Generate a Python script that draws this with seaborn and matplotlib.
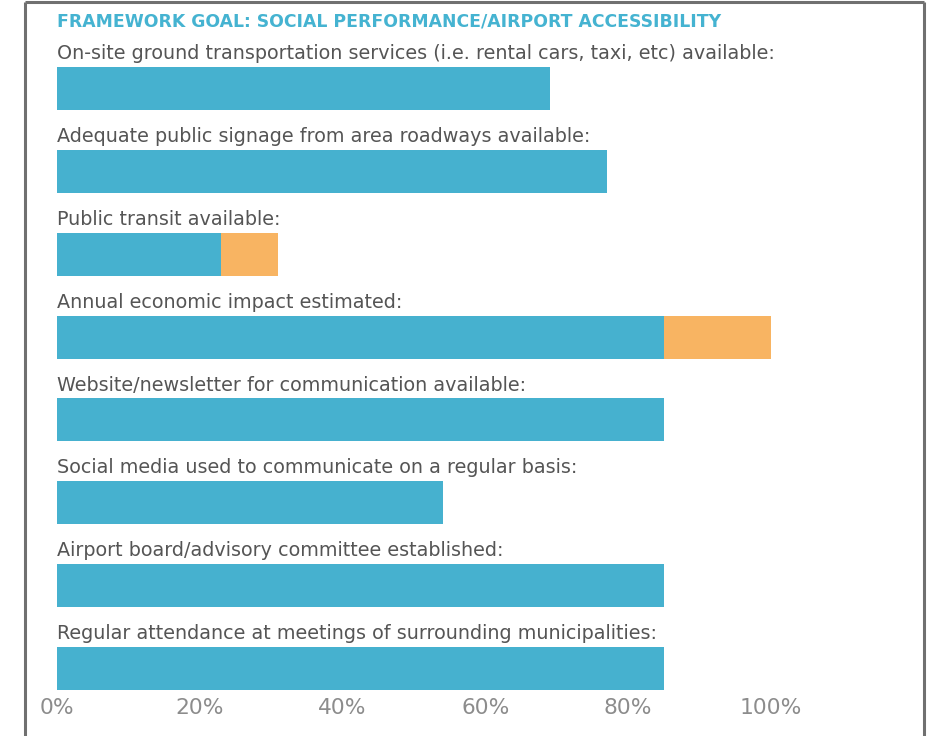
import matplotlib
matplotlib.use("Agg")
import matplotlib.pyplot as plt
from matplotlib.lines import Line2D
import seaborn as sns
import pandas as pd

sns.set_theme(style="white")
plt.rcParams["font.family"] = ["DejaVu Sans"]

title = "FRAMEWORK GOAL: SOCIAL PERFORMANCE/AIRPORT ACCESSIBILITY"
categories = [
    "On-site ground transportation services (i.e. rental cars, taxi, etc) available:",
    "Adequate public signage from area roadways available:",
    "Public transit available:",
    "Annual economic impact estimated:",
    "Website/newsletter for communication available:",
    "Social media used to communicate on a regular basis:",
    "Airport board/advisory committee established:",
    "Regular attendance at meetings of surrounding municipalities:",
]
yes_pct = [69, 77, 23, 85, 85, 54, 85, 85]
partial_pct = [0, 0, 8, 15, 0, 0, 0, 0]
tick_values = [0, 20, 40, 60, 80, 100]
tick_labels = ["0%", "20%", "40%", "60%", "80%", "100%"]

BLUE = "#46b1cf"
ORANGE = "#f8b462"
BAR_W = 0.52

df = pd.DataFrame({
    "item": categories,
    "yes": yes_pct,
    "total": [a + b for a, b in zip(yes_pct, partial_pct)],
})

W, H = 939, 736
fig = plt.figure(figsize=(W / 100, H / 100), dpi=100)

row = 82.86
top_px = 88.5 - row / 2
bottom_px = 668.5 + (BAR_W / 2 + 0.02) * row
ax = fig.add_axes([57 / W, 1 - bottom_px / H, 714 / W, (bottom_px - top_px) / H])

sns.barplot(data=df, y="item", x="total", color=ORANGE, width=BAR_W,
            orient="h", ax=ax, saturation=1, linewidth=0)
sns.barplot(data=df, y="item", x="yes", color=BLUE, width=BAR_W,
            orient="h", ax=ax, saturation=1, linewidth=0)

ax.set_xlim(0, 100)
ax.set_ylim(len(categories) - 1 + BAR_W / 2 + 0.02, -0.5)
ax.set_xticks(tick_values)
ax.set_xticklabels(tick_labels, color="#8c8c8c", fontsize=15.7)
ax.tick_params(axis="x", length=0, pad=4.5)
ax.set_yticks([])
ax.set_xlabel("")
ax.set_ylabel("")
for s in ax.spines.values():
    s.set_visible(False)

for i, label in enumerate(categories):
    ax.text(0, i - BAR_W / 2 - 0.095, label, ha="left", va="baseline",
            fontsize=13.8, color="#555555", clip_on=False)

fig.text(57 / W, 1 - 22 / H, title, ha="left", va="center",
         fontsize=12.45, fontweight="bold", color="#45b3d1")

# panel frame (open at the bottom)
frame = dict(color="#707070", linewidth=2.2, solid_capstyle="butt")
fig.add_artist(Line2D([25 / W, 25 / W], [0, 1 - 1.5 / H], **frame))
fig.add_artist(Line2D([924 / W, 924 / W], [0, 1 - 1.5 / H], **frame))
fig.add_artist(Line2D([25 / W, 924 / W], [1 - 1.5 / H, 1 - 1.5 / H], **frame))

fig.savefig("out.png", dpi=100)
